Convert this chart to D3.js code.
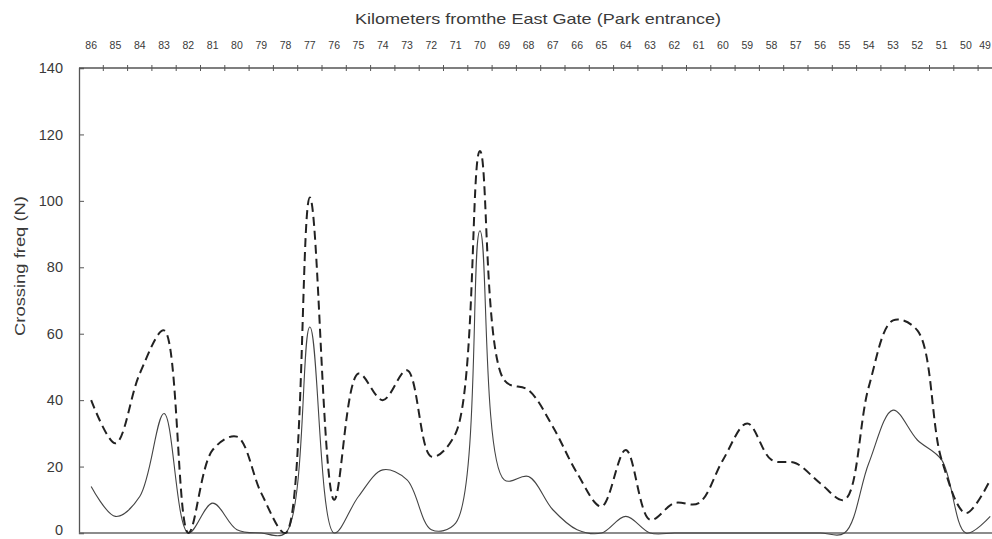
<!DOCTYPE html>
<html lang="en">
  <head>
    <meta charset="utf-8" />
    <script src="https://cdn.jsdelivr.net/npm/d3@7/dist/d3.min.js"></script>
    <title>Crossing frequency</title>
    <style>
      body { margin: 0; background: #fff; }
      text { font-family: "Liberation Sans", Arial, sans-serif; fill: #3a3a3a; }
    </style>
  </head>
  <body>
    <div id="container"></div>
    <script>
      // km from the East Gate (left to right)
      const km = [86, 85, 84, 83, 82, 81, 80, 79, 78, 77, 76, 75, 74, 73, 72, 71, 70, 69, 68,
                  67, 66, 65, 64, 63, 62, 61, 60, 59, 58, 57, 56, 55, 54, 53, 52, 51, 50, 49];
      // dashed series
      const seriesA = [40, 27, 48, 61, 0, 25, 29, 12, 0, 101, 10, 48, 40, 49, 23, 30, 115, 46, 43,
                       32, 18, 8, 25, 4, 9, 9, 22, 33, 22, 21, 15, 10, 44, 64, 61, 22, 6, 16];
      // solid series
      const seriesB = [14, 5, 11, 36, 0, 9, 1, 0, 0, 62, 0, 11, 19, 16, 1, 3, 91, 16, 17,
                       7, 1, 0, 5, 0, 0, 0, 0, 0, 0, 0, 0, 0, 21, 37, 28, 22, 0, 5];
      const yTicks = [0, 20, 40, 60, 80, 100, 120, 140];

      const width = 992, height = 539;
      const mLeft = 79, mTop = 68, mBottom = 533;
      const band = 24.3;

      const svg = d3.select("#container").append("svg")
        .attr("width", width).attr("height", height);

      const x = d3.scaleBand().domain(km).range([mLeft, mLeft + band * km.length]).paddingInner(0).paddingOuter(0);
      const y = d3.scaleLinear().domain([0, 140]).range([mBottom, mTop]);
      const cx = (d) => x(d) + x.bandwidth() / 2;

      // title
      svg.append("text").attr("x", 538).attr("y", 24).attr("text-anchor", "middle")
        .attr("font-size", 15).attr("textLength", 366).attr("lengthAdjust", "spacingAndGlyphs")
        .text("Kilometers fromthe East Gate (Park entrance)");

      // y axis title
      svg.append("text").attr("transform", "translate(25,266) rotate(-90)")
        .attr("text-anchor", "middle").attr("font-size", 15)
        .attr("textLength", 140).attr("lengthAdjust", "spacingAndGlyphs")
        .text("Crossing freq (N)");

      // left axis
      const yAxis = svg.append("g").attr("transform", `translate(${mLeft},0)`)
        .call(d3.axisLeft(y).tickValues(yTicks).tickSize(-5).tickPadding(16));
      yAxis.select(".domain").attr("stroke", "#555").attr("stroke-width", 1.3);
      yAxis.selectAll(".tick line").attr("stroke", "#555");
      yAxis.selectAll("text").attr("font-size", 14.5).attr("fill", "#3a3a3a")
        .attr("font-family", "Liberation Sans, Arial, sans-serif");
      // keep the "0" label inside the picture
      yAxis.selectAll(".tick text").filter((d) => d === 0).attr("dy", "0.1em");

      // top axis, ticks between categories
      svg.append("line").attr("x1", mLeft).attr("x2", width).attr("y1", mTop).attr("y2", mTop)
        .attr("stroke", "#555").attr("stroke-width", 1.3);
      svg.append("g").selectAll("line").data(km.slice(1)).enter().append("line")
        .attr("x1", (d) => x(d)).attr("x2", (d) => x(d))
        .attr("y1", mTop - 3).attr("y2", mTop + 3).attr("stroke", "#555");
      svg.append("g").selectAll("text").data(km).enter().append("text")
        .attr("x", (d, i) => (i === km.length - 1 ? Math.min(cx(d), width - 7) : cx(d)))
        .attr("y", 49).attr("text-anchor", "middle")
        .attr("font-size", 10.5).text((d) => d);

      // bottom line at zero
      svg.append("line").attr("x1", mLeft).attr("x2", width).attr("y1", mBottom).attr("y2", mBottom)
        .attr("stroke", "#666").attr("stroke-width", 1.5);

      const line = d3.line().x((d, i) => cx(km[i])).y((d) => y(d)).curve(d3.curveCatmullRom.alpha(0.5));

      svg.append("path").datum(seriesB).attr("d", line)
        .attr("fill", "none").attr("stroke", "#444").attr("stroke-width", 1.1);
      svg.append("path").datum(seriesA).attr("d", line)
        .attr("fill", "none").attr("stroke", "#222").attr("stroke-width", 2)
        .attr("stroke-dasharray", "9,5");
    </script>
  </body>
</html>
